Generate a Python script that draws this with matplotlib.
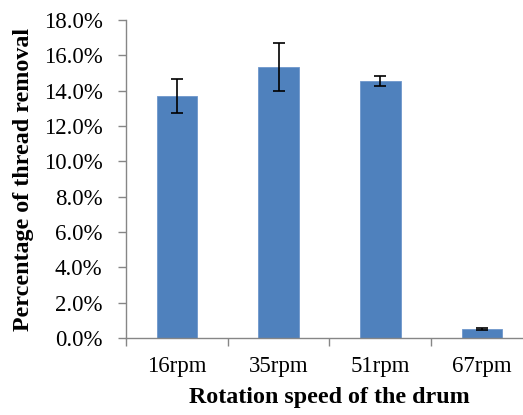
import matplotlib.pyplot as plt
import numpy as np
from matplotlib.ticker import FuncFormatter, FixedLocator

# data
speeds = ['16rpm', '35rpm', '51rpm', '67rpm']
removal = [13.7, 15.33, 14.55, 0.5]   # percent
err = [0.95, 1.37, 0.3, 0.04]

plt.rcParams['font.family'] = ['Liberation Serif', 'DejaVu Serif']

fig = plt.figure(figsize=(5.23, 4.15), dpi=100)
ax = fig.add_axes([0.241, 0.1855, 0.778, 0.7663])

x = np.arange(len(speeds))
ax.bar(x, removal, width=0.4, color='#4F81BD', edgecolor='#6E97CC', linewidth=0.6,
       yerr=err, capsize=4.5, error_kw=dict(ecolor='black', elinewidth=1.2, capthick=1.2))

ax.set_xlim(-0.5, 3.5)
ax.set_ylim(0, 18)
ax.set_yticks(np.arange(0, 18.1, 2))
ax.yaxis.set_major_formatter(FuncFormatter(lambda v, p: '%.1f%%' % v))
ax.set_xticks(x)
ax.set_xticklabels(speeds)
ax.xaxis.set_minor_locator(FixedLocator([-0.5, 0.5, 1.5, 2.5, 3.5]))
ax.tick_params(axis='x', which='major', length=0, pad=13, labelsize=16.5)
ax.tick_params(axis='x', which='minor', length=6, color='#868686', width=1)
ax.tick_params(axis='y', length=6, color='#868686', width=1, labelsize=16.5, pad=11)

for s in ['top', 'right']:
    ax.spines[s].set_visible(False)
for s in ['left', 'bottom']:
    ax.spines[s].set_color('#868686')
    ax.spines[s].set_linewidth(1)

ax.set_xlabel('Rotation speed of the drum', fontsize=17.3, fontweight='bold', labelpad=7)
ax.set_ylabel('Percentage of thread removal', fontsize=17.3, fontweight='bold')
ax.yaxis.set_label_coords(-0.226, 0.5)

fig.savefig('out.png', dpi=100)
